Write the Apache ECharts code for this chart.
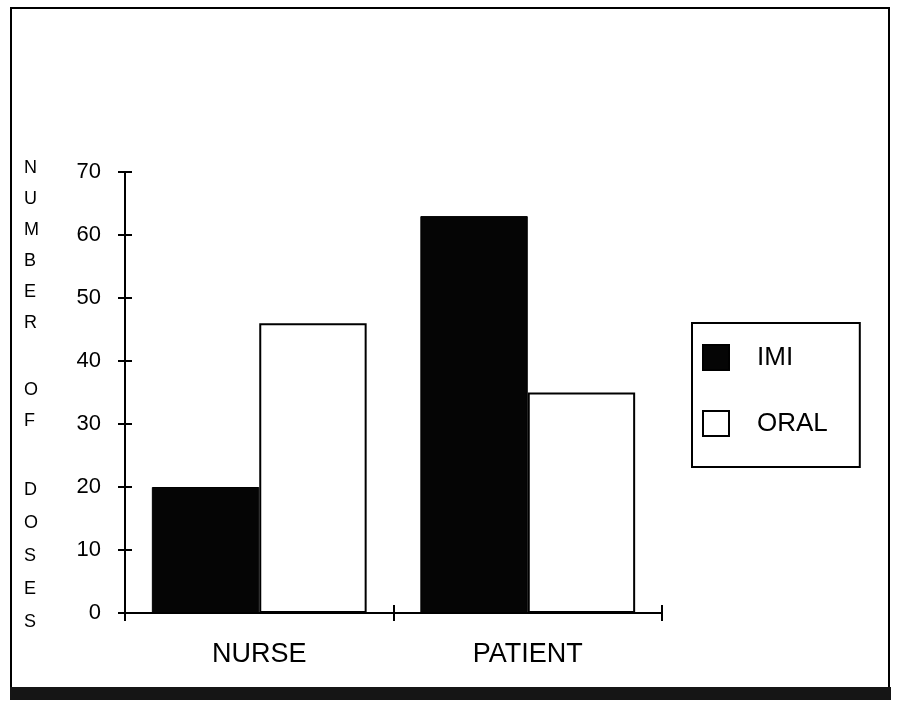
<!DOCTYPE html>
<html>
<head>
<meta charset="utf-8">
<script src="https://cdn.jsdelivr.net/npm/echarts@6/dist/echarts.min.js"></script>
<style>
  html, body { margin: 0; padding: 0; background: #fff; }
  #chart { width: 901px; height: 710px; }
</style>
</head>
<body>
<div id="chart"></div>
<script>
// data
var categories = ['NURSE', 'PATIENT']
var imiDoses = [20, 63]
var oralDoses = [46, 35]
var yTicks = [0, 10, 20, 30, 40, 50, 60, 70]

var font = '"Liberation Sans", Arial, Helvetica, sans-serif'
var black = { color: '#000', width: 2 }
var gridBox = { left: 125, right: 239, top: 172, bottom: 97 }

var chart = echarts.init(document.getElementById('chart'))

var yBase = {
  type: 'value',
  min: yTicks[0],
  max: yTicks[yTicks.length - 1],
  interval: 10,
  splitLine: { show: false }
}

chart.setOption({
  animation: false,
  backgroundColor: '#fff',
  textStyle: { fontFamily: font, color: '#000' },
  // grid 1 is a twin of grid 0, it only draws the inner half of the ticks
  grid: [gridBox, Object.assign({}, gridBox)],
  legend: {
    orient: 'vertical',
    left: 692,
    top: 323,
    padding: [21, 32, 30, 10],
    itemWidth: 26,
    itemHeight: 25,
    itemGap: 39,
    backgroundColor: '#fff',
    borderColor: '#000',
    borderWidth: 2,
    icon: 'rect',
    textStyle: { fontFamily: font, fontSize: 26, color: '#000', padding: [0, 0, 0, 23] },
    data: ['IMI', 'ORAL']
  },
  xAxis: [{
    type: 'category',
    gridIndex: 0,
    data: categories,
    axisLine: { lineStyle: black },
    axisTick: { show: true, length: 8, lineStyle: black },
    axisLabel: { margin: 28, fontSize: 27, color: '#000', fontFamily: font }
  }, {
    type: 'category',
    gridIndex: 1,
    data: categories,
    axisLine: { show: true, lineStyle: black },
    axisTick: { show: true, inside: true, length: 8, lineStyle: black },
    axisLabel: { show: false }
  }],
  yAxis: [Object.assign({}, yBase, {
    gridIndex: 0,
    axisLine: { show: true, lineStyle: black },
    axisTick: { show: true, length: 7, lineStyle: black },
    axisLabel: { margin: 24, fontSize: 22, color: '#000', fontFamily: font }
  }), Object.assign({}, yBase, {
    gridIndex: 1,
    axisLine: { show: true, lineStyle: black },
    axisTick: { show: true, inside: true, length: 7, lineStyle: black },
    axisLabel: { show: false }
  })],
  series: [{
    name: 'IMI',
    type: 'bar',
    data: imiDoses,
    barGap: '0%',
    barCategoryGap: '20%',
    itemStyle: { color: '#050505', borderColor: '#000', borderWidth: 1 }
  }, {
    name: 'ORAL',
    type: 'bar',
    data: oralDoses,
    itemStyle: { color: '#fff', borderColor: '#000', borderWidth: 2 }
  }, {
    // invisible helper so the twin axes get drawn
    name: 'ticks',
    type: 'line',
    xAxisIndex: 1,
    yAxisIndex: 1,
    data: imiDoses,
    symbol: 'none',
    silent: true,
    lineStyle: { opacity: 0 }
  }],
  graphic: [
    // page frame and the dark band under it
    { type: 'rect', shape: { x: 11, y: 8, width: 878, height: 680 }, style: { fill: 'none', stroke: '#000', lineWidth: 2 }, z: -1 },
    { type: 'rect', shape: { x: 10, y: 687, width: 881, height: 13 }, style: { fill: '#151515' } },
    // vertical axis title, stacked letters
    { type: 'text', left: 24, top: 153, style: { text: 'N\nU\nM\nB\nE\nR', font: '18px ' + font, fill: '#000', lineHeight: 31 } },
    { type: 'text', left: 24, top: 375, style: { text: 'O\nF', font: '18px ' + font, fill: '#000', lineHeight: 31 } },
    { type: 'text', left: 24, top: 474, style: { text: 'D\nO\nS\nE\nS', font: '18px ' + font, fill: '#000', lineHeight: 33 } }
  ]
})
</script>
</body>
</html>
